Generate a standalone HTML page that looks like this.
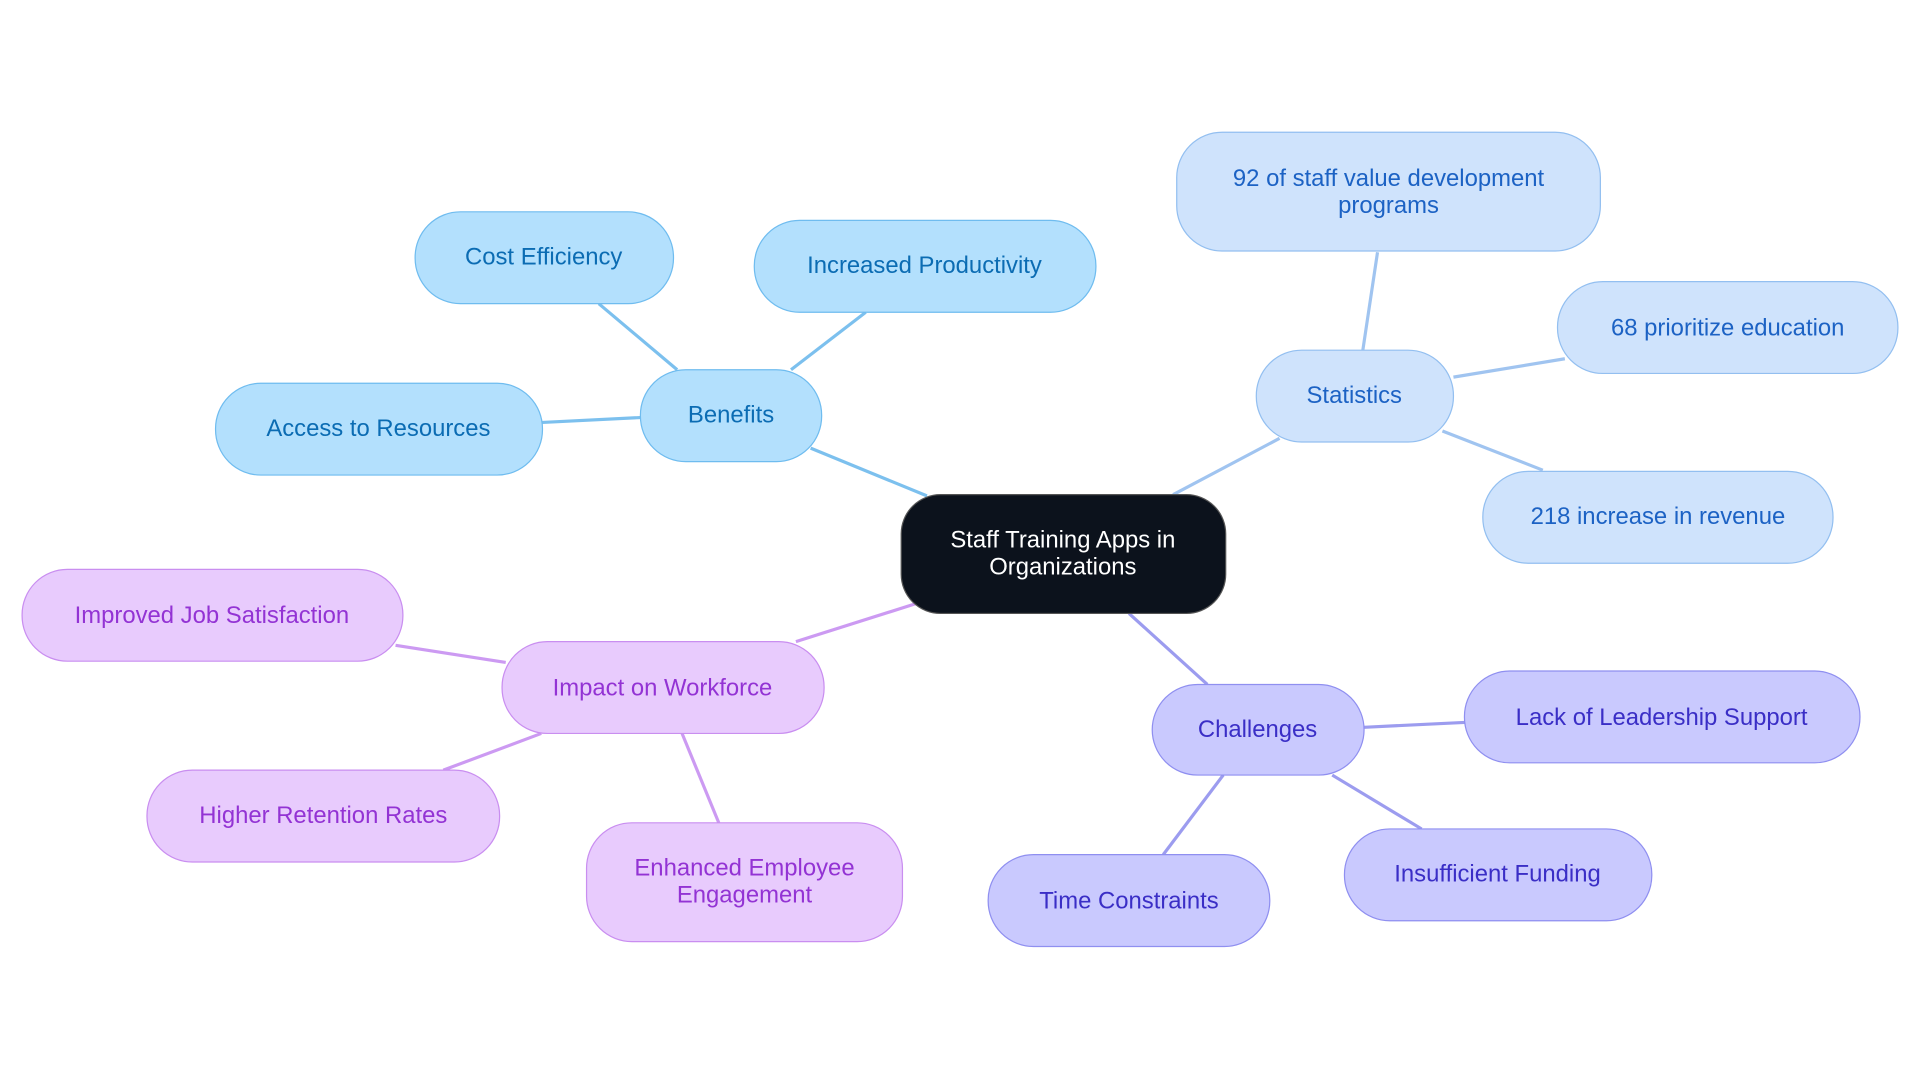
<!DOCTYPE html>
<html><head><meta charset="utf-8"><style>html,body{margin:0;padding:0;background:#fff;}svg{display:block}</style></head>
<body>
<svg width="1920" height="1083" viewBox="0 0 1568 884.5" xmlns="http://www.w3.org/2000/svg" font-family="Liberation Sans, sans-serif" font-size="19.5" text-anchor="middle">
<g stroke-width="2.6" fill="none">
<g stroke="#7cc0ee">
<line x1="757" y1="405" x2="662" y2="366"/>
<line x1="553" y1="302" x2="489" y2="248"/>
<line x1="646" y1="302" x2="707" y2="255"/>
<line x1="523" y1="341" x2="443" y2="345"/>
</g>
<g stroke="#a0c4f0">
<line x1="958" y1="404" x2="1045" y2="358"/>
<line x1="1113" y1="286" x2="1125" y2="206"/>
<line x1="1187" y1="308" x2="1278" y2="293"/>
<line x1="1178" y1="352" x2="1260" y2="384"/>
</g>
<g stroke="#cc9af2">
<line x1="748" y1="493" x2="650" y2="524"/>
<line x1="413" y1="541" x2="323" y2="527"/>
<line x1="442" y1="599" x2="362" y2="629"/>
<line x1="557" y1="599" x2="587" y2="672"/>
</g>
<g stroke="#9c9cef">
<line x1="922" y1="501" x2="986" y2="559"/>
<line x1="1114" y1="594" x2="1196" y2="590"/>
<line x1="1088" y1="633" x2="1161" y2="677"/>
<line x1="999" y1="633" x2="950" y2="698"/>
</g>
</g>
<rect x="736" y="404" width="265" height="97" rx="32" fill="#0c121c" stroke="#555" stroke-width="1"/>
<text x="868" y="447" fill="#fff">Staff Training Apps in</text>
<text x="868" y="469" fill="#fff">Organizations</text>

<g fill="#b3e0fd" stroke="#6fbcef" stroke-width="1">
<rect x="523" y="302" width="148" height="75" rx="37"/>
<rect x="339" y="173" width="211" height="75" rx="37"/>
<rect x="616" y="180" width="279" height="75" rx="37"/>
<rect x="176" y="313" width="267" height="75" rx="37"/>
</g>
<g fill="#0b6cb3">
<text x="597" y="345">Benefits</text>
<text x="444" y="216">Cost Efficiency</text>
<text x="755" y="223">Increased Productivity</text>
<text x="309" y="356">Access to Resources</text>
</g>

<g fill="#cfe3fc" stroke="#93bff0" stroke-width="1">
<rect x="1026" y="286" width="161" height="75" rx="37"/>
<rect x="961" y="108" width="346" height="97" rx="37"/>
<rect x="1272" y="230" width="278" height="75" rx="37"/>
<rect x="1211" y="385" width="286" height="75" rx="37"/>
</g>
<g fill="#1c62c4">
<text x="1106" y="329">Statistics</text>
<text x="1134" y="152">92 of staff value development</text>
<text x="1134" y="174">programs</text>
<text x="1411" y="274">68 prioritize education</text>
<text x="1354" y="428">218 increase in revenue</text>
</g>

<g fill="#e8cbfd" stroke="#c98ef0" stroke-width="1">
<rect x="410" y="524" width="263" height="75" rx="37"/>
<rect x="18" y="465" width="311" height="75" rx="37"/>
<rect x="120" y="629" width="288" height="75" rx="37"/>
<rect x="479" y="672" width="258" height="97" rx="37"/>
</g>
<g fill="#9333d4">
<text x="541" y="568">Impact on Workforce</text>
<text x="173" y="509">Improved Job Satisfaction</text>
<text x="264" y="672">Higher Retention Rates</text>
<text x="608" y="715">Enhanced Employee</text>
<text x="608" y="737">Engagement</text>
</g>

<g fill="#c9c9fe" stroke="#8f8ff0" stroke-width="1">
<rect x="941" y="559" width="173" height="74" rx="37"/>
<rect x="1196" y="548" width="323" height="75" rx="37"/>
<rect x="1098" y="677" width="251" height="75" rx="37"/>
<rect x="807" y="698" width="230" height="75" rx="37"/>
</g>
<g fill="#3a2ec6">
<text x="1027" y="602">Challenges</text>
<text x="1357" y="592">Lack of Leadership Support</text>
<text x="1223" y="720">Insufficient Funding</text>
<text x="922" y="742">Time Constraints</text>
</g>
</svg>
</body></html>
